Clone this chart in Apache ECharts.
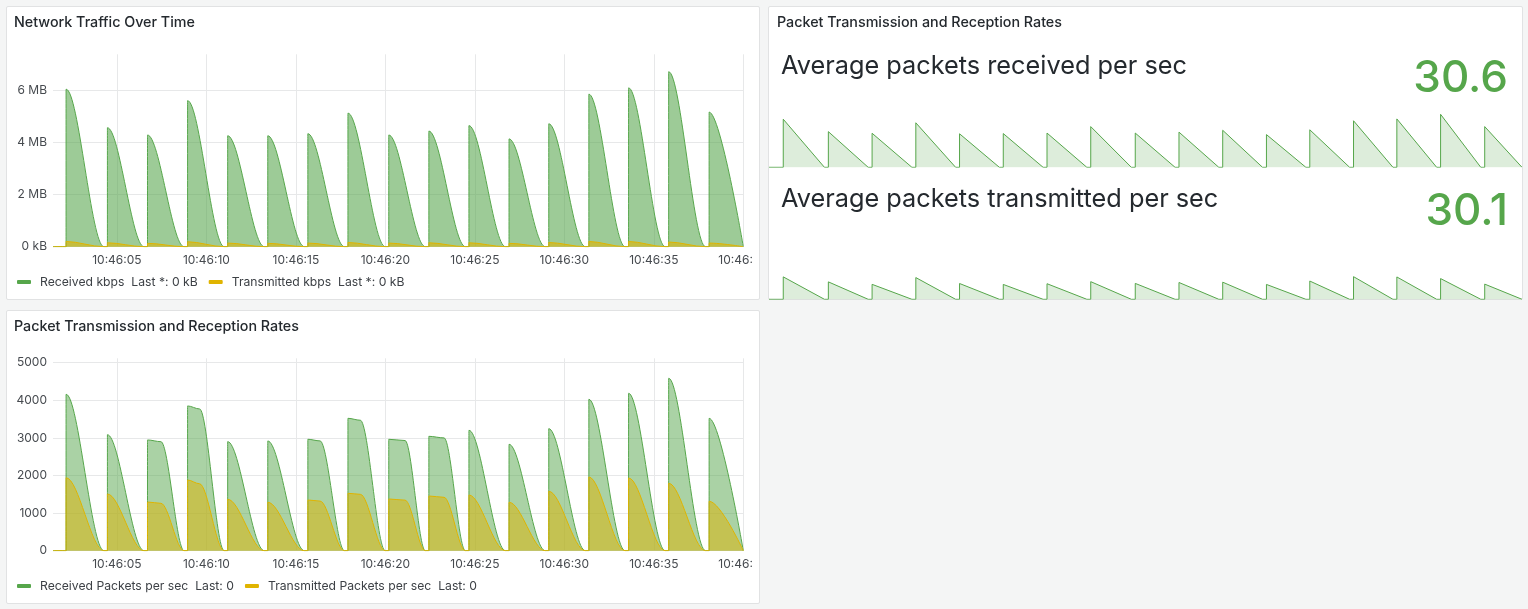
<!DOCTYPE html>
<html>
<head>
<meta charset="utf-8">
<title>Network dashboard</title>
<script src="https://cdn.jsdelivr.net/npm/echarts@6/dist/echarts.min.js"></script>
<style>
  html, body {
    margin: 0;
    padding: 0;
    width: 1528px;
    height: 609px;
    background: #f4f5f5;
    overflow: hidden;
    font-family: Inter, "Noto Sans", sans-serif;
    color: #24292e;
  }
  .panel {
    position: absolute;
    box-sizing: border-box;
    background: #fff;
    border: 1px solid #e1e2e3;
    border-radius: 2px;
  }
  .title {
    position: absolute;
    font-size: 14.3px;
    font-weight: 500;
    line-height: 14px;
    white-space: nowrap;
  }
  .chart { position: absolute; }
  .stat-name {
    position: absolute;
    font-size: 25.3px;
    line-height: 24px;
    white-space: nowrap;
  }
  .stat-value {
    position: absolute;
    font-size: 44px;
    font-weight: 500;
    line-height: 44px;
    color: #56a64b;
    text-align: right;
    white-space: nowrap;
  }
</style>
</head>
<body>

<div class="panel" style="left:6px;top:6px;width:754px;height:294px"></div>
<div class="panel" style="left:6px;top:310px;width:754px;height:294px"></div>
<div class="panel" style="left:768px;top:6px;width:755px;height:294px"></div>

<div id="traffic" class="chart" style="left:7px;top:7px;width:745px;height:292px"></div>
<div id="packets" class="chart" style="left:7px;top:311px;width:745px;height:292px"></div>
<div id="stat" class="chart" style="left:769px;top:7px;width:753px;height:293px"></div>

<div class="title" style="left:14px;top:14.6px">Network Traffic Over Time</div>
<div class="title" style="left:14px;top:319px">Packet Transmission and Reception Rates</div>
<div class="title" style="left:777px;top:14.6px">Packet Transmission and Reception Rates</div>

<div class="stat-name" style="left:781px;top:53px">Average packets received per sec</div>
<div class="stat-value" style="right:20px;top:54px" id="rxAvg"></div>
<div class="stat-name" style="left:781px;top:186.3px">Average packets transmitted per sec</div>
<div class="stat-value" style="right:20px;top:187px" id="txAvg"></div>

<script>
// time is seconds after 10:46:00
const rangeStart = 1.43;
const rangeEnd = 40.0;

// every pulse jumps up at its start and falls back to zero just before the next one
const cycleStart = [2.16, 4.47, 6.71, 8.95, 11.19, 13.43, 15.67, 17.91, 20.19,
  22.43, 24.67, 26.91, 29.13, 31.37, 33.59, 35.83, 38.09];
const cycleZero = [4.27, 6.51, 8.75, 10.99, 13.23, 15.47, 17.71, 19.99, 22.23,
  24.47, 26.71, 28.93, 31.17, 33.39, 35.63, 37.89, 40.0];

// pulse peaks, MB
const rxMB = [6.05, 4.57, 4.29, 5.61, 4.26, 4.26, 4.34, 5.13, 4.29,
  4.44, 4.65, 4.14, 4.72, 5.86, 6.10, 6.72, 5.17];
const txMB = [0.20, 0.15, 0.13, 0.19, 0.14, 0.13, 0.14, 0.16, 0.14,
  0.15, 0.15, 0.13, 0.16, 0.20, 0.20, 0.18, 0.14];

// pulse peaks, packets per sec
const rxPackets = [4160, 3085, 2945, 3850, 2900, 2918, 2963, 3521, 2963,
  3042, 3202, 2830, 3245, 4027, 4186, 4585, 3521];
const txPackets = [1940, 1508, 1295, 1880, 1367, 1287, 1348, 1526, 1375,
  1455, 1481, 1287, 1580, 1960, 1934, 1793, 1314];

// flatter-topped pulses hold their height a little longer: [time, value]
const rxShoulder = [null, null, [7.46, 2900], [9.62, 3770], null, null, [16.35, 2920],
  [18.6, 3470], [21.1, 2930], [23.28, 3000], null, null, null, null, null, null, null];
const txShoulder = [null, null, [7.46, 1260], [9.62, 1780], null, null, [16.35, 1320],
  [18.6, 1500], [21.1, 1345], [23.28, 1420], null, null, null, null, null, null, null];

const timeTicks = [5, 10, 15, 20, 25, 30, 35, 40];
const byteTicks = [0, 2, 4, 6];
const packetTicks = [0, 1000, 2000, 3000, 4000, 5000];

const rxAvg = '30.6';
const txAvg = '30.1';

const green = '#56a64b';
const yellow = '#e0b400';
const labelColor = '#464a4f';
const gridColor = '#e7e8e9';
const font = 'Inter';

function pulses(peaks, shoulders) {
  const pts = [[rangeStart, 0]];
  peaks.forEach(function (p, i) {
    pts.push([cycleStart[i], 0], [cycleStart[i], p]);
    if (shoulders && shoulders[i]) pts.push(shoulders[i]);
    pts.push([cycleZero[i], 0]);
  });
  return pts;
}

function clock(v) {
  return '10:46:' + String(v).padStart(2, '0');
}

function timeseries(o) {
  return {
    animation: false,
    grid: { left: 46, right: 8.7, top: 47.3, bottom: 52.3, outerBoundsMode: 'none', containLabel: false },
    legend: {
      left: 10,
      top: 269,
      padding: 0,
      itemGap: 11,
      itemWidth: 14,
      itemHeight: 4,
      icon: 'roundRect',
      formatter: function (name) { return '{t|' + name + '  ' + o.last + '}'; },
      textStyle: {
        fontFamily: font,
        fontSize: 12,
        color: '#3d4146',
        rich: { t: { fontFamily: font, fontSize: 12.2, color: '#3d4146', padding: [0, 0, 0, 4] } }
      }
    },
    xAxis: {
      type: 'value',
      min: rangeStart,
      max: rangeEnd,
      axisLine: { show: false },
      axisTick: { show: false, customValues: timeTicks },
      axisLabel: {
        customValues: timeTicks,
        formatter: clock,
        color: labelColor,
        fontFamily: font,
        fontSize: 12,
        margin: 8
      },
      splitLine: { show: true, lineStyle: { color: gridColor, width: 1 } }
    },
    yAxis: {
      type: 'value',
      min: 0,
      max: o.max,
      axisLine: { show: false },
      axisTick: { show: false, customValues: o.ticks },
      axisLabel: {
        customValues: o.ticks,
        formatter: o.fmt,
        color: labelColor,
        fontFamily: font,
        fontSize: 12,
        margin: 6
      },
      splitLine: { show: true, lineStyle: { color: gridColor, width: 1 } }
    },
    series: [
      {
        name: o.names[0],
        type: 'line',
        data: o.data[0],
        smooth: 0.33,
        smoothMonotone: 'x',
        showSymbol: false,
        itemStyle: { color: green },
        lineStyle: { color: green, width: 1 },
        areaStyle: { color: green, opacity: o.fill }
      },
      {
        name: o.names[1],
        type: 'line',
        data: o.data[1],
        smooth: 0.33,
        smoothMonotone: 'x',
        showSymbol: false,
        itemStyle: { color: yellow },
        lineStyle: { color: yellow, width: 1 },
        areaStyle: { color: yellow, opacity: o.fill }
      }
    ]
  };
}

const traffic = echarts.init(document.getElementById('traffic'));
traffic.setOption(timeseries({
  max: 7.39,
  ticks: byteTicks,
  fmt: function (v) { return v === 0 ? '0 kB' : v + ' MB'; },
  names: ['Received kbps', 'Transmitted kbps'],
  last: 'Last *: 0 kB',
  fill: 0.58,
  data: [pulses(rxMB), pulses(txMB)]
}));

const packets = echarts.init(document.getElementById('packets'));
packets.setOption(timeseries({
  max: 5117,
  ticks: packetTicks,
  fmt: function (v) { return String(v); },
  names: ['Received Packets per sec', 'Transmitted Packets per sec'],
  last: 'Last: 0',
  fill: 0.5,
  data: [pulses(rxPackets, rxShoulder), pulses(txPackets, txShoulder)]
}));

// stat panel sparklines share one range
const sparkMax = Math.max.apply(null, rxPackets.concat(txPackets));
function sparkAxis(i) {
  return { type: 'value', gridIndex: i, min: rangeStart, max: rangeEnd, show: false };
}
function sparkY(i) {
  return { type: 'value', gridIndex: i, min: 0, max: sparkMax, show: false };
}
function spark(i, data) {
  return {
    type: 'line',
    xAxisIndex: i,
    yAxisIndex: i,
    data: data,
    showSymbol: false,
    lineStyle: { color: green, width: 1 },
    areaStyle: { color: green, opacity: 0.2 }
  };
}
const stat = echarts.init(document.getElementById('stat'));
stat.setOption({
  animation: false,
  grid: [
    { left: 0, right: 0, top: 107.3, height: 53, outerBoundsMode: 'none' },
    { left: 0, right: 0, top: 239.3, height: 53, outerBoundsMode: 'none' }
  ],
  xAxis: [sparkAxis(0), sparkAxis(1)],
  yAxis: [sparkY(0), sparkY(1)],
  series: [spark(0, pulses(rxPackets)), spark(1, pulses(txPackets))]
});

document.getElementById('rxAvg').textContent = rxAvg;
document.getElementById('txAvg').textContent = txAvg;
</script>
</body>
</html>
